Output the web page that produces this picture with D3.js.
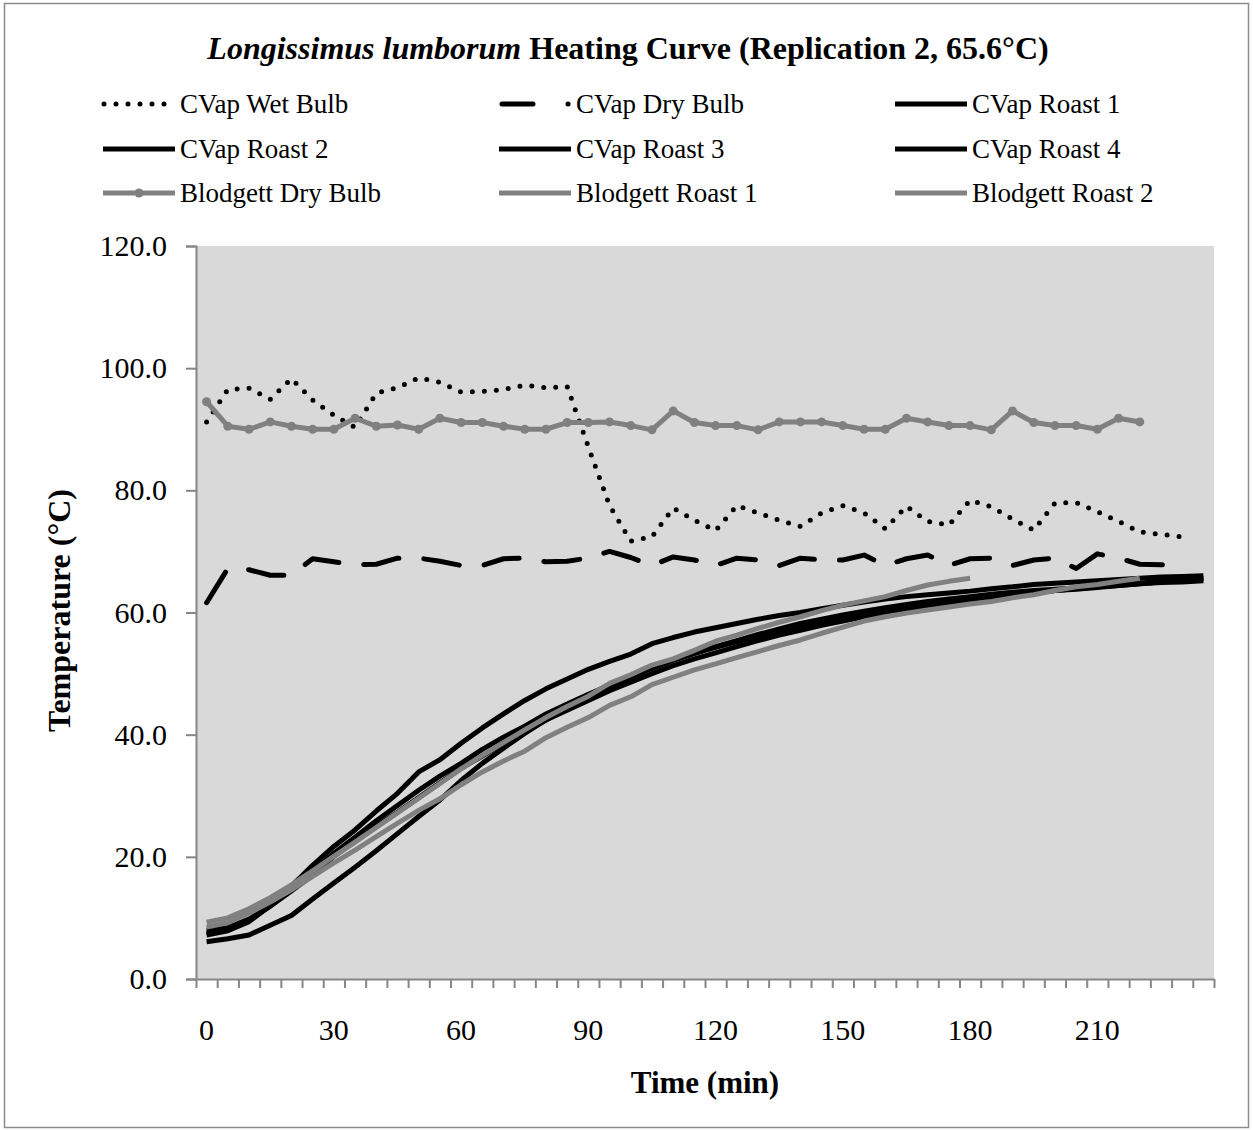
<!DOCTYPE html>
<html>
<head>
<meta charset="utf-8">
<script src="https://cdn.jsdelivr.net/npm/d3@7/dist/d3.min.js"></script>
<style>
  body { margin: 0; background: #fff; }
  svg { display: block; }
  text { font-family: "Liberation Serif", "Times New Roman", Times, serif; fill: #000; }
</style>
</head>
<body>
<svg id="chart" width="1253" height="1131"></svg>
<script>
// Sampling times (min), one category per reading
const times = [0, 5, 10, 15, 20, 25, 30, 35, 40, 45, 50, 55, 60, 65, 70, 75, 80, 85, 90, 95,
  100, 105, 110, 115, 120, 125, 130, 135, 140, 145, 150, 155, 160, 165, 170, 175, 180, 185,
  190, 195, 200, 205, 210, 215, 220, 225, 230, 235];
const timeLabels = [0, 30, 60, 90, 120, 150, 180, 210];
const tempTicks = [0, 20, 40, 60, 80, 100, 120];

// Temperatures (°C)
const cvapWetBulb = [91.2, 96.5, 96.7, 94.9, 98.3, 94.8, 92.3, 90.3, 95.9, 96.8, 98.4, 97.7,
  96.1, 96.2, 96.5, 97.2, 96.8, 97.0, 87.1, 77.5, 71.7, 72.4, 77.1, 75.1, 73.4, 77.5, 76.3,
  75.1, 74.1, 76.3, 77.5, 76.3, 73.7, 77.4, 74.9, 74.3, 78.4, 77.3, 75.3, 73.5, 77.9, 78.0,
  76.5, 74.9, 73.2, 72.8, 72.4];
const cvapDryBulb = [61.6, 67.2, 67.0, 66.1, 66.1, 68.8, 68.3, 67.8, 67.9, 68.9, 68.9, 68.4,
  67.7, 67.7, 68.8, 68.9, 68.3, 68.4, 68.9, 70.0, 69.0, 67.7, 69.1, 68.6, 67.7, 68.9, 68.6,
  67.7, 68.9, 68.6, 68.6, 69.4, 67.7, 68.8, 69.4, 67.7, 68.8, 68.9, 67.7, 68.6, 68.9, 67.2,
  69.6, 68.9, 67.9, 67.8, 67.8];
const cvapRoast1 = [7.2, 7.9, 9.4, 12.0, 15.2, 18.6, 21.7, 24.4, 27.5, 30.4, 33.9, 35.9, 38.6,
  41.1, 43.4, 45.6, 47.5, 49.1, 50.7, 52.0, 53.2, 54.9, 55.9, 56.8, 57.5, 58.2, 58.9, 59.5,
  60.0, 60.6, 61.2, 61.7, 62.2, 62.6, 62.9, 63.2, 63.5, 63.9, 64.2, 64.6, 64.8, 65.0, 65.2,
  65.4, 65.6, 65.8, 65.9, 66.0];
const cvapRoast2 = [7.5, 8.0, 9.6, 12.0, 14.6, 17.6, 20.6, 23.2, 25.9, 28.4, 30.9, 33.2, 35.3,
  37.6, 39.6, 41.4, 43.4, 45.0, 46.6, 48.1, 49.6, 50.9, 52.2, 53.3, 54.3, 55.2, 56.1, 57.0,
  57.8, 58.5, 59.2, 59.8, 60.4, 60.9, 61.4, 61.8, 62.2, 62.7, 63.0, 63.3, 63.6, 63.8, 64.1,
  64.4, 64.7, 65.0, 65.3, 65.6];
const cvapRoast3 = [8.0, 8.4, 9.8, 11.9, 14.4, 17.0, 20.1, 22.5, 25.0, 27.3, 29.7, 32.1, 34.5,
  36.5, 38.6, 40.5, 42.4, 44.0, 45.6, 47.2, 48.6, 50.0, 51.3, 52.4, 53.4, 54.4, 55.4, 56.3,
  57.1, 57.9, 58.6, 59.3, 59.9, 60.5, 61.0, 61.5, 61.9, 62.4, 62.8, 63.2, 63.6, 63.9, 64.2,
  64.5, 64.8, 65.1, 65.3, 65.5];
const cvapRoast4 = [6.1, 6.6, 7.2, 8.8, 10.4, 13.1, 15.7, 18.3, 21.0, 23.8, 26.6, 29.3, 32.5,
  35.3, 37.8, 40.2, 42.4, 44.4, 46.3, 47.9, 49.4, 50.9, 52.2, 53.3, 54.4, 55.4, 56.4, 57.3,
  58.2, 58.9, 59.6, 60.2, 60.8, 61.3, 61.8, 62.2, 62.6, 63.0, 63.3, 63.6, 63.8, 64.0, 64.2,
  64.4, 64.7, 64.9, 65.0, 65.2];
const blodgettDryBulb = [94.5, 90.5, 90.0, 91.2, 90.5, 90.0, 90.0, 91.8, 90.5, 90.7, 90.0, 91.8,
  91.1, 91.1, 90.5, 90.0, 90.0, 91.1, 91.1, 91.2, 90.6, 89.9, 93.0, 91.1, 90.6, 90.6, 89.9,
  91.2, 91.2, 91.2, 90.6, 90.0, 90.0, 91.8, 91.2, 90.6, 90.6, 89.9, 93.0, 91.1, 90.6, 90.6,
  90.0, 91.8, 91.2];
const blodgettRoast1 = [9.3, 10.0, 11.5, 13.3, 15.4, 17.7, 20.1, 22.4, 24.8, 27.2, 29.6, 32.0,
  34.4, 36.6, 38.7, 40.8, 42.8, 44.6, 46.3, 48.4, 49.8, 51.4, 52.4, 53.8, 55.3, 56.3, 57.4,
  58.4, 59.3, 60.3, 61.2, 61.9, 62.6, 63.6, 64.5, 65.1, 65.6];
const blodgettRoast2 = [8.5, 9.2, 10.8, 12.6, 14.6, 16.8, 19.0, 21.1, 23.3, 25.5, 27.6, 29.5,
  31.8, 33.9, 35.7, 37.3, 39.5, 41.2, 42.8, 44.8, 46.2, 48.2, 49.4, 50.6, 51.6, 52.6, 53.6,
  54.6, 55.5, 56.6, 57.6, 58.6, 59.3, 59.9, 60.4, 60.9, 61.4, 61.8, 62.4, 62.9, 63.6, 64.2,
  64.6, 65.1, 65.6];

const BLACK = "#000000";
const GREY = "#808080";
const AXIS = "#868686";

const series = [
  { name: "CVap Wet Bulb", values: cvapWetBulb, color: BLACK, dash: "0 12",
    legendFrom: 104, legendTo: 170 },
  { name: "CVap Dry Bulb", values: cvapDryBulb, color: BLACK, dash: "36 25",
    legendDash: "31 35 0.1 100", legendFrom: 502, legendTo: 570 },
  { name: "CVap Roast 1", values: cvapRoast1, color: BLACK },
  { name: "CVap Roast 2", values: cvapRoast2, color: BLACK },
  { name: "CVap Roast 3", values: cvapRoast3, color: BLACK },
  { name: "CVap Roast 4", values: cvapRoast4, color: BLACK },
  { name: "Blodgett Dry Bulb", values: blodgettDryBulb, color: GREY, marker: true },
  { name: "Blodgett Roast 1", values: blodgettRoast1, color: GREY },
  { name: "Blodgett Roast 2", values: blodgettRoast2, color: GREY }
];

const W = 1253, H = 1131;
const plot = { left: 196, right: 1214, top: 246, bottom: 979 };
const svg = d3.select("#chart");

// Outer chart frame
svg.append("rect")
  .attr("x", 4.5).attr("y", 3.5).attr("width", W - 9).attr("height", H - 7)
  .attr("fill", "#fff").attr("stroke", "#8c8c8c").attr("stroke-width", 1.5);

// Plot area background
svg.append("rect")
  .attr("x", plot.left).attr("y", plot.top)
  .attr("width", plot.right - plot.left).attr("height", plot.bottom - plot.top)
  .attr("fill", "#d9d9d9");

const x = d3.scaleBand().domain(times).range([plot.left, plot.right]);
const xc = t => x(t) + x.bandwidth() / 2;
const xEdge = d3.scaleLinear().domain([0, times.length]).range([plot.left, plot.right]);
const y = d3.scaleLinear().domain([0, 120]).range([plot.bottom, plot.top]);

// Y axis
const yAxis = svg.append("g")
  .attr("transform", `translate(${plot.left},0)`)
  .call(d3.axisLeft(y).tickValues(tempTicks).tickFormat(d3.format(".1f"))
    .tickSize(10).tickPadding(19));
yAxis.selectAll("text").style("font-size", "30px").attr("fill", "#000");

// X axis: tick marks between categories, labels every 30 min
const xTicks = svg.append("g")
  .attr("transform", `translate(0,${plot.bottom})`)
  .call(d3.axisBottom(xEdge).tickValues(d3.range(0, times.length + 1)).tickFormat("")
    .tickSize(9).tickSizeOuter(0));
const xLabels = svg.append("g")
  .attr("transform", `translate(0,${plot.bottom})`)
  .call(d3.axisBottom(x).tickValues(timeLabels).tickSize(0).tickPadding(40));
xLabels.select(".domain").remove();
xLabels.selectAll("text").style("font-size", "30px").attr("fill", "#000");

[yAxis, xTicks].forEach(g => {
  g.selectAll(".domain").attr("stroke", AXIS).attr("stroke-width", 2);
  g.selectAll(".tick line").attr("stroke", AXIS).attr("stroke-width", 2);
});

// Series lines
const line = d3.line().x((d, i) => xc(times[i])).y(d => y(d));
const lines = svg.append("g");
series.forEach(s => {
  lines.append("path")
    .datum(s.values)
    .attr("d", line)
    .attr("fill", "none")
    .attr("stroke", s.color)
    .attr("stroke-width", 5)
    .attr("stroke-linejoin", "round")
    .attr("stroke-linecap", s.dash ? "round" : "butt")
    .attr("stroke-dasharray", s.dash || null);
  if (s.marker) {
    lines.append("g").selectAll("circle")
      .data(s.values)
      .join("circle")
      .attr("cx", (d, i) => xc(times[i]))
      .attr("cy", d => y(d))
      .attr("r", 4.5)
      .attr("fill", s.color);
  }
});

// Title
const title = svg.append("text")
  .attr("x", 628).attr("y", 59)
  .attr("text-anchor", "middle")
  .style("font-size", "32px").style("font-weight", "bold");
title.append("tspan").style("font-style", "italic").text("Longissimus lumborum");
title.append("tspan").text(" Heating Curve (Replication 2, 65.6°C)");

// Legend: three columns, three rows
const legendCols = [103, 499, 895];
const legendRows = [104, 149, 193];
const legend = svg.append("g");
series.forEach((s, i) => {
  const lx = legendCols[i % 3], ly = legendRows[Math.floor(i / 3)];
  const from = s.legendFrom !== undefined ? s.legendFrom : lx;
  const to = s.legendTo !== undefined ? s.legendTo : lx + 72;
  legend.append("line")
    .attr("x1", from).attr("x2", to).attr("y1", ly).attr("y2", ly)
    .attr("stroke", s.color).attr("stroke-width", 5)
    .attr("stroke-linecap", s.dash ? "round" : "butt")
    .attr("stroke-dasharray", s.legendDash || s.dash || null);
  if (s.marker) {
    legend.append("circle").attr("cx", lx + 36).attr("cy", ly).attr("r", 4.5).attr("fill", s.color);
  }
  legend.append("text")
    .attr("x", lx + 77).attr("y", ly + 9)
    .style("font-size", "27px")
    .text(s.name);
});

// Axis titles
svg.append("text")
  .attr("x", (plot.left + plot.right) / 2).attr("y", 1093)
  .attr("text-anchor", "middle")
  .style("font-size", "31px").style("font-weight", "bold")
  .text("Time (min)");
svg.append("text")
  .attr("transform", `translate(70,${(plot.top + plot.bottom) / 2 - 2}) rotate(-90)`)
  .attr("text-anchor", "middle")
  .style("font-size", "32px").style("font-weight", "bold")
  .text("Temperature (°C)");
</script>
</body>
</html>
